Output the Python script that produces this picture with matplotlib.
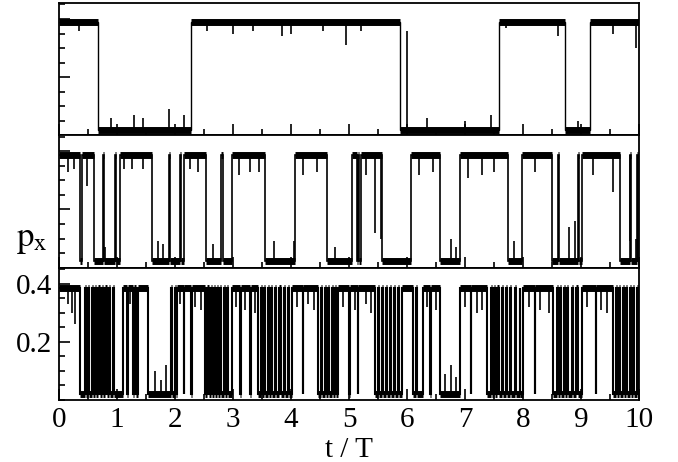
import matplotlib
matplotlib.use("Agg")
import matplotlib.pyplot as plt
from matplotlib.ticker import MultipleLocator
import numpy as np

plt.rcParams['font.family'] = ['Liberation Serif', 'DejaVu Serif']
plt.rcParams['mathtext.fontset'] = 'stix'

# levels of the two states (p_x)
high_level = [0.390, 0.386, 0.385]
low_level = [0.018, 0.022, 0.020]

# switching times (t/T); every panel starts in the high state
top_switch = [0.67, 2.28, 5.88, 7.59, 8.72, 9.16]
mid_switch = [0.36, 0.40, 0.60, 0.75, 0.77, 0.96, 0.98, 1.05, 1.60, 1.90, 1.92,
              2.08, 2.10, 2.16, 2.53, 2.80, 2.82, 2.98, 3.55, 4.07, 4.62, 5.05,
              5.13, 5.16, 5.18, 5.21, 5.57, 6.07, 6.57, 6.91, 7.74, 7.98, 8.50,
              8.60, 8.62, 8.94, 8.96, 9.02, 9.67, 9.84, 9.86, 9.97, 9.985]
bot_switch = [0.36, 0.44, 0.46, 0.50, 0.52, 0.57, 0.59, 0.62, 0.64, 0.68, 0.70,
              0.74, 0.76, 0.80, 0.82, 0.86, 0.88, 0.93, 0.94,
              1.10, 1.18, 1.19, 1.27, 1.30, 1.33, 1.37, 1.53,
              1.93, 1.95, 2.00, 2.01, 2.04, 2.15, 2.16, 2.28, 2.29, 2.52,
              2.56, 2.58, 2.62, 2.64, 2.67, 2.69, 2.72, 2.74, 2.78, 2.80,
              2.84, 2.86, 2.90, 2.92, 2.98, 3.12, 3.13, 3.30, 3.31, 3.43,
              3.48, 3.50, 3.54, 3.56, 3.60, 3.62, 3.66, 3.68, 3.72, 3.74,
              3.80, 3.82, 3.88, 3.90, 3.95, 3.96, 4.02, 4.20, 4.21, 4.47,
              4.52, 4.54, 4.58, 4.60, 4.64, 4.66, 4.70, 4.72, 4.76, 4.78, 4.81,
              5.00, 5.01, 5.15, 5.16, 5.45, 5.50, 5.52, 5.57, 5.59, 5.63, 5.65,
              5.70, 5.72, 5.77, 5.79, 5.84, 5.86, 5.91, 6.10, 6.15, 6.18, 6.28,
              6.40, 6.41, 6.57, 6.91, 7.10, 7.11, 7.38, 7.44, 7.46, 7.50, 7.52,
              7.56, 7.58, 7.63, 7.65, 7.70, 7.72, 7.78, 7.80, 7.86, 7.88, 7.94,
              7.95, 8.00, 8.20, 8.21, 8.52, 8.58, 8.60, 8.64, 8.66, 8.70, 8.72,
              8.76, 8.78, 8.84, 8.86, 8.92, 8.94, 9.02, 9.25, 9.26, 9.55, 9.60,
              9.62, 9.66, 9.68, 9.72, 9.74, 9.78, 9.80, 9.84, 9.86, 9.90, 9.92,
              9.96, 9.98]

# short excursions: (time, tip value)
top_spikes_t = [0.35, 2.55, 3.0, 3.35, 3.85, 4.0, 4.55, 4.95, 5.2, 6.0, 7.7, 8.6, 9.55, 9.95,
                0.9, 1.3, 1.45, 1.9, 2.15, 6.35, 7.0, 7.45, 8.95]
top_spikes_v = [0.36, 0.36, 0.35, 0.36, 0.34, 0.35, 0.36, 0.31, 0.36, 0.36, 0.37, 0.34, 0.35, 0.30,
                0.06, 0.07, 0.06, 0.09, 0.07, 0.06, 0.05, 0.07, 0.05]
mid_spikes_t = [0.15, 0.25, 0.48, 1.12, 1.25, 1.45, 2.25, 2.4, 3.1, 3.3, 3.45, 4.2, 4.45,
                5.3, 6.2, 6.45, 7.05, 7.3, 7.5, 8.2, 9.2, 9.55,
                0.8, 1.7, 1.8, 2.65, 3.7, 4.05, 4.75, 5.45, 5.55, 6.75, 6.85, 7.85, 8.8, 8.9, 9.85, 9.95]
mid_spikes_v = [0.33, 0.34, 0.28, 0.34, 0.34, 0.34, 0.34, 0.33, 0.32, 0.33, 0.33, 0.32, 0.33,
                0.32, 0.32, 0.33, 0.31, 0.32, 0.33, 0.33, 0.32, 0.26,
                0.07, 0.09, 0.08, 0.08, 0.09, 0.09, 0.07, 0.12, 0.10, 0.10, 0.07, 0.09, 0.14, 0.16, 0.09, 0.10]
bot_spikes_t = [0.15, 0.22, 0.28, 1.22, 2.08, 2.35, 2.45, 3.05, 3.2, 3.38, 4.1, 4.3, 4.4,
                4.9, 5.1, 5.3, 5.38, 6.35, 6.5, 7.0, 7.2, 7.3, 8.1, 8.3, 8.45, 9.1, 9.35, 9.45,
                1.65, 1.75, 1.85, 6.65, 6.75, 6.85]
bot_spikes_v = [0.33, 0.30, 0.26, 0.33, 0.33, 0.32, 0.31, 0.32, 0.31, 0.30, 0.32, 0.33, 0.31,
                0.32, 0.31, 0.33, 0.30, 0.32, 0.31, 0.32, 0.30, 0.31, 0.32, 0.31, 0.30, 0.32, 0.31, 0.30,
                0.10, 0.07, 0.12, 0.09, 0.12, 0.08]

x_ticks = [0, 1, 2, 3, 4, 5, 6, 7, 8, 9, 10]
y_ticks = [0.2, 0.4]

W, H = 678, 462
fig = plt.figure(figsize=(W / 100, H / 100), dpi=100)

left, right = 59 / W, 639 / W
top_px, bot_px = 3, 400
ph = (bot_px - top_px) / 3

switches = [top_switch, mid_switch, bot_switch]
spikes = [(top_spikes_t, top_spikes_v), (mid_spikes_t, mid_spikes_v),
          (bot_spikes_t, bot_spikes_v)]
trans_lw = [1.0, 1.2, 1.5]
axes = []
for i in range(3):
    y0 = 1 - (top_px + ph * (i + 1)) / H
    ax = fig.add_axes([left, y0, right - left, ph / H])
    axes.append(ax)
    sw = switches[i]
    edges = np.array([0.0] + sw + [10.0])
    vals = np.array([high_level[i] if k % 2 == 0 else low_level[i] for k in range(len(edges) - 1)])
    ax.stairs(vals, edges, color='black', lw=trans_lw[i], baseline=None)
    # noisy band on each plateau
    ax.hlines(vals, edges[:-1], edges[1:], color='black', lw=5.0)
    st, sv = spikes[i]
    if st:
        base = [vals[np.searchsorted(edges, t, side='right') - 1] for t in st]
        ax.vlines(st, base, sv, color='black', lw=1.2)
    ax.set_xlim(0, 10)
    ax.set_ylim(0, 0.455)
    ax.xaxis.set_major_locator(MultipleLocator(1))
    ax.xaxis.set_minor_locator(MultipleLocator(0.5))
    ax.set_yticks(y_ticks)
    ax.yaxis.set_minor_locator(MultipleLocator(0.05))
    ax.tick_params(which='both', direction='in', top=False, right=False, width=1.2)
    ax.tick_params(which='major', length=8)
    ax.tick_params(which='minor', length=4)
    ax.tick_params(labelsize=21, pad=5)
    for s in ax.spines.values():
        s.set_linewidth(1.3)
    if i < 2:
        ax.set_xticklabels([])
        ax.set_yticklabels([])
    else:
        ax.set_xticks(x_ticks)
        ax.set_yticklabels(['0.2', '0.4'])

axes[2].set_xlabel('t / T', fontsize=21, labelpad=3)
fig.text(32 / W, 1 - 240 / H, r'$\mathrm{p_x}$', fontsize=25, ha='center', va='center')

fig.savefig('out.png', dpi=100)
